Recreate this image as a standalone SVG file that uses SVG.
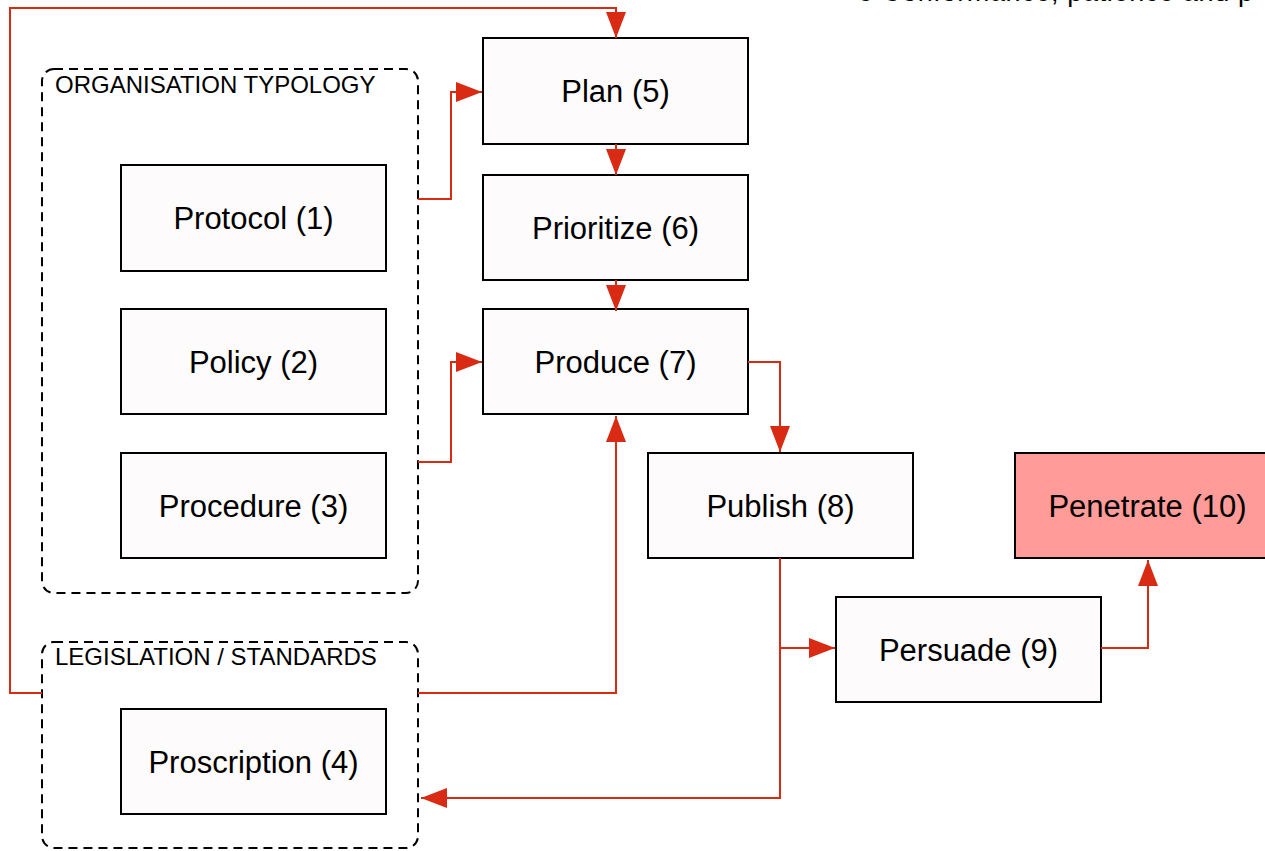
<svg xmlns="http://www.w3.org/2000/svg" width="1265" height="851" viewBox="0 0 1265 851">
<style>
.box{fill:#fdfbfc;stroke:#000;stroke-width:2}
.hot{fill:#ff9b98;stroke:#000;stroke-width:2}
.grp{fill:none;stroke:#000;stroke-width:2;stroke-dasharray:9 6}
.t{font-family:"Liberation Sans",Arial,sans-serif;font-size:31px;fill:#000;text-anchor:middle}
.lbl{font-family:"Liberation Sans",Arial,sans-serif;font-size:24px;fill:#000}
.top{font-family:"Liberation Sans",Arial,sans-serif;font-size:27px;fill:#000}
.c{fill:none;stroke:#d92a14;stroke-width:2;marker-end:url(#ah)}
</style>
<defs>
<marker id="ah" markerUnits="userSpaceOnUse" markerWidth="28" markerHeight="22" refX="26" refY="10" orient="auto">
<path d="M0,0 L26,10 L0,20 Z" fill="#d92a14"/>
</marker>
</defs>
<rect width="1265" height="851" fill="#fff"/>
<text class="top" x="858" y="1" textLength="395" lengthAdjust="spacing">e Conformance, patience and p</text>
<g id="grp-org">
<rect class="grp" x="42" y="69" width="376" height="524" rx="12"/>
<text class="lbl" x="55" y="93">ORGANISATION TYPOLOGY</text>
</g>
<g id="grp-leg">
<rect class="grp" x="42" y="642" width="376" height="206" rx="12"/>
<text class="lbl" x="55" y="665">LEGISLATION / STANDARDS</text>
</g>
<g id="n1"><rect class="box" x="121" y="165" width="265" height="106"/><text class="t" x="253.5" y="229">Protocol (1)</text></g>
<g id="n2"><rect class="box" x="121" y="309" width="265" height="105"/><text class="t" x="253.5" y="373">Policy (2)</text></g>
<g id="n3"><rect class="box" x="121" y="453" width="265" height="105"/><text class="t" x="253.5" y="517">Procedure (3)</text></g>
<g id="n4"><rect class="box" x="121" y="709" width="265" height="105"/><text class="t" x="253.5" y="773">Proscription (4)</text></g>
<g id="n5"><rect class="box" x="483" y="38" width="265" height="106"/><text class="t" x="615.5" y="102">Plan (5)</text></g>
<g id="n6"><rect class="box" x="483" y="175" width="265" height="105"/><text class="t" x="615.5" y="239">Prioritize (6)</text></g>
<g id="n7"><rect class="box" x="483" y="309" width="265" height="105"/><text class="t" x="615.5" y="373">Produce (7)</text></g>
<g id="n8"><rect class="box" x="648" y="453" width="265" height="105"/><text class="t" x="780.5" y="517">Publish (8)</text></g>
<g id="n9"><rect class="box" x="836" y="597" width="265" height="105"/><text class="t" x="968.5" y="661">Persuade (9)</text></g>
<g id="n10"><rect class="hot" x="1015" y="453" width="265" height="105"/><text class="t" x="1147.5" y="517">Penetrate (10)</text></g>
<g id="connectors">
<path class="c" d="M42,693 H10 V8 H616 V38"/>
<path class="c" d="M418,199 H451 V92 H482"/>
<path class="c" d="M418,462 H451 V362 H482"/>
<path class="c" d="M616,144 V175"/>
<path class="c" d="M616,280 V311"/>
<path class="c" d="M748,362 H780 V452"/>
<path class="c" d="M418,693 H616 V416"/>
<path class="c" d="M780,558 V798 H421"/>
<path class="c" d="M780,648 H835"/>
<path class="c" d="M1101,648 H1148 V560"/>
</g>
</svg>
